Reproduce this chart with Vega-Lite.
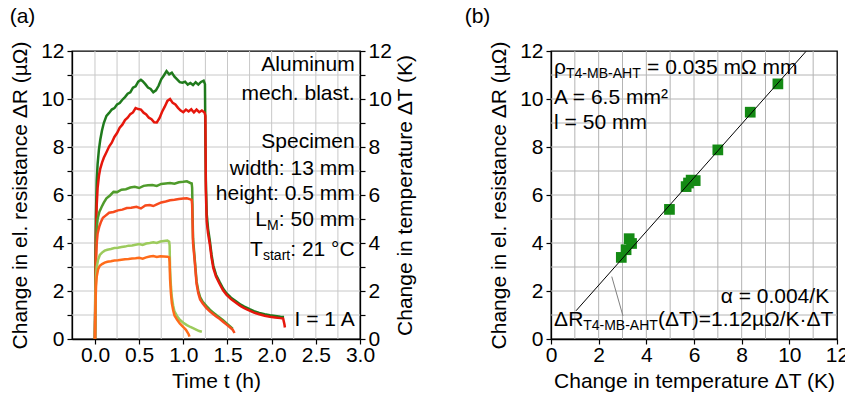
{
  "$schema": "https://vega.github.io/schema/vega-lite/v6.json",
  "background": "white",
  "padding": {"left": 8, "top": 5, "right": 5, "bottom": 5},
  "spacing": 46,
  "config": {
    "font": "Liberation Sans",
    "view": {"stroke": "black", "strokeWidth": 1.3},
    "axis": {
      "labelFontSize": 21, "titleFontSize": 21, "titleFontWeight": "normal",
      "labelColor": "black", "titleColor": "black",
      "domainColor": "black", "domainWidth": 1.3,
      "tickColor": "black", "tickSize": 5, "tickWidth": 1.2,
      "labelPadding": 3, "titlePadding": 10, "grid": false,
      "labelFlush": false, "labelOverlap": false
    },
    "axisX": {"labelPadding": 0, "titlePadding": 5},
    "title": {"fontSize": 21, "fontWeight": "normal", "color": "black", "font": "Liberation Sans"},
    "text": {"font": "Liberation Sans", "color": "black"}
  },
  "datasets": {
    "gridT": [
      {"t": 0}, {"t": 0.25}, {"t": 0.5}, {"t": 0.75}, {"t": 1}, {"t": 1.25}, {"t": 1.5},
      {"t": 1.75}, {"t": 2}, {"t": 2.25}, {"t": 2.5}, {"t": 2.75}
    ],
    "gridV": [
      {"v": 1}, {"v": 2}, {"v": 3}, {"v": 4}, {"v": 5}, {"v": 6}, {"v": 7}, {"v": 8}, {"v": 9}, {"v": 10}, {"v": 11}
    ],
    "gridDT": [
      {"dT": 1}, {"dT": 2}, {"dT": 3}, {"dT": 4}, {"dT": 5}, {"dT": 6}, {"dT": 7}, {"dT": 8}, {"dT": 9}, {"dT": 10}, {"dT": 11}
    ],
    "gridDR": [
      {"dR": 1}, {"dR": 2}, {"dR": 3}, {"dR": 4}, {"dR": 5}, {"dR": 6}, {"dR": 7}, {"dR": 8}, {"dR": 9}, {"dR": 10}, {"dR": 11}
    ],
    "curves": [
      {"s": "DG", "t": 0, "v": 0}, {"s": "DG", "t": 0.004, "v": 2.5}, {"s": "DG", "t": 0.01, "v": 5.0}, {"s": "DG", "t": 0.02, "v": 6.6}, {"s": "DG", "t": 0.03, "v": 7.3}, {"s": "DG", "t": 0.045, "v": 7.9}, {"s": "DG", "t": 0.06, "v": 8.3}, {"s": "DG", "t": 0.08, "v": 8.7}, {"s": "DG", "t": 0.1, "v": 9.0}, {"s": "DG", "t": 0.13, "v": 9.3}, {"s": "DG", "t": 0.16, "v": 9.42}, {"s": "DG", "t": 0.19, "v": 9.56}, {"s": "DG", "t": 0.22, "v": 9.62}, {"s": "DG", "t": 0.25, "v": 9.77}, {"s": "DG", "t": 0.28, "v": 9.83}, {"s": "DG", "t": 0.31, "v": 9.97}, {"s": "DG", "t": 0.34, "v": 10.08}, {"s": "DG", "t": 0.37, "v": 10.22}, {"s": "DG", "t": 0.4, "v": 10.28}, {"s": "DG", "t": 0.43, "v": 10.47}, {"s": "DG", "t": 0.46, "v": 10.53}, {"s": "DG", "t": 0.49, "v": 10.72}, {"s": "DG", "t": 0.52, "v": 10.8}, {"s": "DG", "t": 0.54, "v": 10.74}, {"s": "DG", "t": 0.57, "v": 10.62}, {"s": "DG", "t": 0.6, "v": 10.48}, {"s": "DG", "t": 0.63, "v": 10.42}, {"s": "DG", "t": 0.66, "v": 10.28}, {"s": "DG", "t": 0.69, "v": 10.36}, {"s": "DG", "t": 0.72, "v": 10.55}, {"s": "DG", "t": 0.75, "v": 10.82}, {"s": "DG", "t": 0.78, "v": 10.98}, {"s": "DG", "t": 0.81, "v": 11.16}, {"s": "DG", "t": 0.84, "v": 11.03}, {"s": "DG", "t": 0.87, "v": 11.1}, {"s": "DG", "t": 0.9, "v": 10.93}, {"s": "DG", "t": 0.93, "v": 10.82}, {"s": "DG", "t": 0.96, "v": 10.7}, {"s": "DG", "t": 0.99, "v": 10.68}, {"s": "DG", "t": 1.02, "v": 10.72}, {"s": "DG", "t": 1.05, "v": 10.6}, {"s": "DG", "t": 1.08, "v": 10.67}, {"s": "DG", "t": 1.11, "v": 10.58}, {"s": "DG", "t": 1.14, "v": 10.7}, {"s": "DG", "t": 1.17, "v": 10.6}, {"s": "DG", "t": 1.2, "v": 10.71}, {"s": "DG", "t": 1.23, "v": 10.76}, {"s": "DG", "t": 1.245, "v": 10.62}, {"s": "DG", "t": 1.25, "v": 8.2}, {"s": "DG", "t": 1.255, "v": 6.6}, {"s": "DG", "t": 1.265, "v": 5.2}, {"s": "DG", "t": 1.28, "v": 4.6}, {"s": "DG", "t": 1.3, "v": 4.1}, {"s": "DG", "t": 1.32, "v": 3.5}, {"s": "DG", "t": 1.34, "v": 3.05}, {"s": "DG", "t": 1.37, "v": 2.68}, {"s": "DG", "t": 1.41, "v": 2.38}, {"s": "DG", "t": 1.45, "v": 2.1}, {"s": "DG", "t": 1.49, "v": 1.9}, {"s": "DG", "t": 1.54, "v": 1.72}, {"s": "DG", "t": 1.6, "v": 1.56}, {"s": "DG", "t": 1.65, "v": 1.43}, {"s": "DG", "t": 1.69, "v": 1.35}, {"s": "DG", "t": 1.75, "v": 1.24}, {"s": "DG", "t": 1.8, "v": 1.16}, {"s": "DG", "t": 1.86, "v": 1.09}, {"s": "DG", "t": 1.92, "v": 1.03}, {"s": "DG", "t": 1.98, "v": 0.99}, {"s": "DG", "t": 2.04, "v": 0.96}, {"s": "DG", "t": 2.1, "v": 0.93}, {"s": "DG", "t": 2.14, "v": 0.92},

      {"s": "DR", "t": 0, "v": 0}, {"s": "DR", "t": 0.004, "v": 2.0}, {"s": "DR", "t": 0.01, "v": 4.2}, {"s": "DR", "t": 0.02, "v": 5.6}, {"s": "DR", "t": 0.03, "v": 6.3}, {"s": "DR", "t": 0.045, "v": 6.8}, {"s": "DR", "t": 0.06, "v": 7.1}, {"s": "DR", "t": 0.08, "v": 7.35}, {"s": "DR", "t": 0.1, "v": 7.55}, {"s": "DR", "t": 0.13, "v": 7.78}, {"s": "DR", "t": 0.16, "v": 8.02}, {"s": "DR", "t": 0.19, "v": 8.18}, {"s": "DR", "t": 0.22, "v": 8.42}, {"s": "DR", "t": 0.25, "v": 8.58}, {"s": "DR", "t": 0.28, "v": 8.8}, {"s": "DR", "t": 0.31, "v": 8.93}, {"s": "DR", "t": 0.34, "v": 9.12}, {"s": "DR", "t": 0.37, "v": 9.22}, {"s": "DR", "t": 0.4, "v": 9.37}, {"s": "DR", "t": 0.43, "v": 9.44}, {"s": "DR", "t": 0.46, "v": 9.62}, {"s": "DR", "t": 0.49, "v": 9.58}, {"s": "DR", "t": 0.52, "v": 9.56}, {"s": "DR", "t": 0.55, "v": 9.43}, {"s": "DR", "t": 0.58, "v": 9.36}, {"s": "DR", "t": 0.61, "v": 9.22}, {"s": "DR", "t": 0.64, "v": 9.16}, {"s": "DR", "t": 0.67, "v": 9.03}, {"s": "DR", "t": 0.7, "v": 9.02}, {"s": "DR", "t": 0.73, "v": 9.2}, {"s": "DR", "t": 0.76, "v": 9.47}, {"s": "DR", "t": 0.79, "v": 9.68}, {"s": "DR", "t": 0.82, "v": 9.92}, {"s": "DR", "t": 0.85, "v": 10.0}, {"s": "DR", "t": 0.88, "v": 9.84}, {"s": "DR", "t": 0.91, "v": 9.77}, {"s": "DR", "t": 0.94, "v": 9.63}, {"s": "DR", "t": 0.97, "v": 9.52}, {"s": "DR", "t": 1.0, "v": 9.45}, {"s": "DR", "t": 1.03, "v": 9.56}, {"s": "DR", "t": 1.06, "v": 9.48}, {"s": "DR", "t": 1.09, "v": 9.57}, {"s": "DR", "t": 1.12, "v": 9.44}, {"s": "DR", "t": 1.15, "v": 9.56}, {"s": "DR", "t": 1.18, "v": 9.45}, {"s": "DR", "t": 1.21, "v": 9.52}, {"s": "DR", "t": 1.24, "v": 9.44}, {"s": "DR", "t": 1.25, "v": 9.3}, {"s": "DR", "t": 1.255, "v": 6.2}, {"s": "DR", "t": 1.265, "v": 4.9}, {"s": "DR", "t": 1.28, "v": 4.4}, {"s": "DR", "t": 1.3, "v": 3.95}, {"s": "DR", "t": 1.32, "v": 3.38}, {"s": "DR", "t": 1.34, "v": 2.95}, {"s": "DR", "t": 1.37, "v": 2.6}, {"s": "DR", "t": 1.41, "v": 2.3}, {"s": "DR", "t": 1.45, "v": 2.03}, {"s": "DR", "t": 1.49, "v": 1.84}, {"s": "DR", "t": 1.54, "v": 1.66}, {"s": "DR", "t": 1.6, "v": 1.5}, {"s": "DR", "t": 1.65, "v": 1.37}, {"s": "DR", "t": 1.69, "v": 1.29}, {"s": "DR", "t": 1.75, "v": 1.18}, {"s": "DR", "t": 1.8, "v": 1.1}, {"s": "DR", "t": 1.86, "v": 1.03}, {"s": "DR", "t": 1.92, "v": 0.97}, {"s": "DR", "t": 1.98, "v": 0.93}, {"s": "DR", "t": 2.04, "v": 0.9}, {"s": "DR", "t": 2.1, "v": 0.87}, {"s": "DR", "t": 2.13, "v": 0.85}, {"s": "DR", "t": 2.145, "v": 0.6}, {"s": "DR", "t": 2.15, "v": 0.48},

      {"s": "MG", "t": 0, "v": 0}, {"s": "MG", "t": 0.005, "v": 2.0}, {"s": "MG", "t": 0.012, "v": 3.8}, {"s": "MG", "t": 0.02, "v": 4.6}, {"s": "MG", "t": 0.03, "v": 5.0}, {"s": "MG", "t": 0.05, "v": 5.3}, {"s": "MG", "t": 0.075, "v": 5.5}, {"s": "MG", "t": 0.1, "v": 5.68}, {"s": "MG", "t": 0.13, "v": 5.86}, {"s": "MG", "t": 0.17, "v": 5.98}, {"s": "MG", "t": 0.21, "v": 6.13}, {"s": "MG", "t": 0.25, "v": 6.12}, {"s": "MG", "t": 0.3, "v": 6.22}, {"s": "MG", "t": 0.35, "v": 6.24}, {"s": "MG", "t": 0.4, "v": 6.31}, {"s": "MG", "t": 0.45, "v": 6.34}, {"s": "MG", "t": 0.5, "v": 6.29}, {"s": "MG", "t": 0.55, "v": 6.38}, {"s": "MG", "t": 0.6, "v": 6.41}, {"s": "MG", "t": 0.65, "v": 6.42}, {"s": "MG", "t": 0.7, "v": 6.38}, {"s": "MG", "t": 0.75, "v": 6.46}, {"s": "MG", "t": 0.8, "v": 6.48}, {"s": "MG", "t": 0.85, "v": 6.5}, {"s": "MG", "t": 0.9, "v": 6.47}, {"s": "MG", "t": 0.95, "v": 6.53}, {"s": "MG", "t": 1.0, "v": 6.55}, {"s": "MG", "t": 1.04, "v": 6.57}, {"s": "MG", "t": 1.08, "v": 6.5}, {"s": "MG", "t": 1.095, "v": 6.48}, {"s": "MG", "t": 1.1, "v": 6.3}, {"s": "MG", "t": 1.105, "v": 5.2}, {"s": "MG", "t": 1.11, "v": 4.2}, {"s": "MG", "t": 1.13, "v": 3.3}, {"s": "MG", "t": 1.15, "v": 2.4}, {"s": "MG", "t": 1.17, "v": 2.0}, {"s": "MG", "t": 1.19, "v": 1.75}, {"s": "MG", "t": 1.22, "v": 1.55}, {"s": "MG", "t": 1.26, "v": 1.38}, {"s": "MG", "t": 1.3, "v": 1.22}, {"s": "MG", "t": 1.34, "v": 1.1}, {"s": "MG", "t": 1.38, "v": 0.98}, {"s": "MG", "t": 1.41, "v": 0.9}, {"s": "MG", "t": 1.45, "v": 0.78}, {"s": "MG", "t": 1.49, "v": 0.65}, {"s": "MG", "t": 1.53, "v": 0.52}, {"s": "MG", "t": 1.56, "v": 0.42},

      {"s": "MR", "t": 0, "v": 0}, {"s": "MR", "t": 0.005, "v": 1.8}, {"s": "MR", "t": 0.012, "v": 3.3}, {"s": "MR", "t": 0.02, "v": 4.0}, {"s": "MR", "t": 0.03, "v": 4.4}, {"s": "MR", "t": 0.05, "v": 4.7}, {"s": "MR", "t": 0.07, "v": 4.9}, {"s": "MR", "t": 0.09, "v": 5.05}, {"s": "MR", "t": 0.12, "v": 5.14}, {"s": "MR", "t": 0.16, "v": 5.26}, {"s": "MR", "t": 0.21, "v": 5.29}, {"s": "MR", "t": 0.26, "v": 5.36}, {"s": "MR", "t": 0.31, "v": 5.39}, {"s": "MR", "t": 0.36, "v": 5.46}, {"s": "MR", "t": 0.41, "v": 5.47}, {"s": "MR", "t": 0.47, "v": 5.51}, {"s": "MR", "t": 0.52, "v": 5.44}, {"s": "MR", "t": 0.57, "v": 5.56}, {"s": "MR", "t": 0.62, "v": 5.58}, {"s": "MR", "t": 0.66, "v": 5.54}, {"s": "MR", "t": 0.7, "v": 5.61}, {"s": "MR", "t": 0.75, "v": 5.69}, {"s": "MR", "t": 0.8, "v": 5.73}, {"s": "MR", "t": 0.85, "v": 5.78}, {"s": "MR", "t": 0.9, "v": 5.8}, {"s": "MR", "t": 0.95, "v": 5.83}, {"s": "MR", "t": 1.0, "v": 5.85}, {"s": "MR", "t": 1.04, "v": 5.86}, {"s": "MR", "t": 1.08, "v": 5.82}, {"s": "MR", "t": 1.095, "v": 5.8}, {"s": "MR", "t": 1.1, "v": 5.6}, {"s": "MR", "t": 1.105, "v": 4.8}, {"s": "MR", "t": 1.11, "v": 4.0}, {"s": "MR", "t": 1.13, "v": 3.2}, {"s": "MR", "t": 1.15, "v": 2.3}, {"s": "MR", "t": 1.17, "v": 1.9}, {"s": "MR", "t": 1.19, "v": 1.65}, {"s": "MR", "t": 1.22, "v": 1.48}, {"s": "MR", "t": 1.26, "v": 1.3}, {"s": "MR", "t": 1.3, "v": 1.15}, {"s": "MR", "t": 1.34, "v": 1.03}, {"s": "MR", "t": 1.38, "v": 0.92}, {"s": "MR", "t": 1.41, "v": 0.84}, {"s": "MR", "t": 1.45, "v": 0.72}, {"s": "MR", "t": 1.49, "v": 0.6}, {"s": "MR", "t": 1.53, "v": 0.48}, {"s": "MR", "t": 1.56, "v": 0.38}, {"s": "MR", "t": 1.58, "v": 0.25},

      {"s": "LG", "t": 0, "v": 0}, {"s": "LG", "t": 0.005, "v": 1.5}, {"s": "LG", "t": 0.012, "v": 2.6}, {"s": "LG", "t": 0.02, "v": 3.0}, {"s": "LG", "t": 0.035, "v": 3.3}, {"s": "LG", "t": 0.055, "v": 3.5}, {"s": "LG", "t": 0.08, "v": 3.6}, {"s": "LG", "t": 0.11, "v": 3.68}, {"s": "LG", "t": 0.14, "v": 3.72}, {"s": "LG", "t": 0.18, "v": 3.75}, {"s": "LG", "t": 0.22, "v": 3.79}, {"s": "LG", "t": 0.26, "v": 3.8}, {"s": "LG", "t": 0.3, "v": 3.83}, {"s": "LG", "t": 0.34, "v": 3.85}, {"s": "LG", "t": 0.38, "v": 3.89}, {"s": "LG", "t": 0.42, "v": 3.9}, {"s": "LG", "t": 0.46, "v": 3.93}, {"s": "LG", "t": 0.5, "v": 3.96}, {"s": "LG", "t": 0.54, "v": 3.92}, {"s": "LG", "t": 0.58, "v": 3.98}, {"s": "LG", "t": 0.62, "v": 4.0}, {"s": "LG", "t": 0.66, "v": 4.03}, {"s": "LG", "t": 0.7, "v": 4.0}, {"s": "LG", "t": 0.74, "v": 4.06}, {"s": "LG", "t": 0.78, "v": 4.08}, {"s": "LG", "t": 0.82, "v": 4.1}, {"s": "LG", "t": 0.84, "v": 4.05}, {"s": "LG", "t": 0.845, "v": 3.9}, {"s": "LG", "t": 0.85, "v": 2.9}, {"s": "LG", "t": 0.86, "v": 2.2}, {"s": "LG", "t": 0.87, "v": 1.75}, {"s": "LG", "t": 0.885, "v": 1.4}, {"s": "LG", "t": 0.9, "v": 1.15}, {"s": "LG", "t": 0.93, "v": 0.95}, {"s": "LG", "t": 0.96, "v": 0.8}, {"s": "LG", "t": 1.0, "v": 0.68}, {"s": "LG", "t": 1.04, "v": 0.58}, {"s": "LG", "t": 1.08, "v": 0.5}, {"s": "LG", "t": 1.11, "v": 0.45}, {"s": "LG", "t": 1.15, "v": 0.38}, {"s": "LG", "t": 1.18, "v": 0.33}, {"s": "LG", "t": 1.21, "v": 0.3},

      {"s": "OR", "t": 0, "v": 0}, {"s": "OR", "t": 0.005, "v": 1.3}, {"s": "OR", "t": 0.012, "v": 2.2}, {"s": "OR", "t": 0.02, "v": 2.6}, {"s": "OR", "t": 0.035, "v": 2.9}, {"s": "OR", "t": 0.055, "v": 3.05}, {"s": "OR", "t": 0.08, "v": 3.12}, {"s": "OR", "t": 0.11, "v": 3.18}, {"s": "OR", "t": 0.14, "v": 3.22}, {"s": "OR", "t": 0.18, "v": 3.24}, {"s": "OR", "t": 0.22, "v": 3.27}, {"s": "OR", "t": 0.26, "v": 3.28}, {"s": "OR", "t": 0.3, "v": 3.3}, {"s": "OR", "t": 0.34, "v": 3.32}, {"s": "OR", "t": 0.38, "v": 3.33}, {"s": "OR", "t": 0.42, "v": 3.35}, {"s": "OR", "t": 0.46, "v": 3.36}, {"s": "OR", "t": 0.5, "v": 3.38}, {"s": "OR", "t": 0.54, "v": 3.35}, {"s": "OR", "t": 0.58, "v": 3.4}, {"s": "OR", "t": 0.62, "v": 3.44}, {"s": "OR", "t": 0.66, "v": 3.46}, {"s": "OR", "t": 0.7, "v": 3.42}, {"s": "OR", "t": 0.74, "v": 3.45}, {"s": "OR", "t": 0.78, "v": 3.44}, {"s": "OR", "t": 0.82, "v": 3.43}, {"s": "OR", "t": 0.84, "v": 3.4}, {"s": "OR", "t": 0.845, "v": 3.2}, {"s": "OR", "t": 0.85, "v": 2.5}, {"s": "OR", "t": 0.86, "v": 1.9}, {"s": "OR", "t": 0.87, "v": 1.5}, {"s": "OR", "t": 0.885, "v": 1.2}, {"s": "OR", "t": 0.9, "v": 0.98}, {"s": "OR", "t": 0.93, "v": 0.8}, {"s": "OR", "t": 0.96, "v": 0.65}, {"s": "OR", "t": 1.0, "v": 0.5}, {"s": "OR", "t": 1.03, "v": 0.38}, {"s": "OR", "t": 1.06, "v": 0.2}, {"s": "OR", "t": 1.07, "v": 0.1}
    ],
    "fit": [
      {"dT": 2.95, "dR": 3.4}, {"dT": 3.15, "dR": 3.72}, {"dT": 3.28, "dR": 4.18}, {"dT": 3.38, "dR": 3.98},
      {"dT": 4.97, "dR": 5.4}, {"dT": 5.67, "dR": 6.35}, {"dT": 5.77, "dR": 6.5}, {"dT": 5.88, "dR": 6.62},
      {"dT": 6.05, "dR": 6.6}, {"dT": 7.0, "dR": 7.88}, {"dT": 8.36, "dR": 9.45}, {"dT": 9.52, "dR": 10.63}
    ]
  },
  "hconcat": [
    {
      "width": 288,
      "height": 288,
      "title": {"text": "(a)", "anchor": "start", "frame": "bounds", "offset": 13},
      "layer": [
        {
          "data": {"name": "gridT"},
          "mark": {"type": "rule", "color": "#c8c8c8", "strokeWidth": 1},
          "encoding": {
            "x": {
              "field": "t", "type": "quantitative",
              "scale": {"domain": [-0.26, 3.0], "nice": false, "zero": false},
              "axis": {
                "title": "Time t (h)", "format": ".1f",
                "values": [0, 0.25, 0.5, 0.75, 1, 1.25, 1.5, 1.75, 2, 2.25, 2.5, 2.75, 3],
                "labelExpr": "(datum.value * 4) % 2 == 0 ? datum.label : ''"
              }
            }
          }
        },
        {
          "data": {"name": "gridV"},
          "mark": {"type": "rule", "color": "#c8c8c8", "strokeWidth": 1},
          "encoding": {
            "y": {
              "field": "v", "type": "quantitative",
              "scale": {"domain": [0, 12], "nice": false},
              "axis": {
                "title": "Change in el. resistance ΔR (µΩ)", "orient": "left",
                "values": [0, 1, 2, 3, 4, 5, 6, 7, 8, 9, 10, 11, 12],
                "labelExpr": "datum.value % 2 == 0 ? datum.label : ''"
              }
            }
          }
        },
        {
          "data": {"name": "curves"},
          "mark": {"type": "line", "strokeWidth": 2.5, "clip": true},
          "encoding": {
            "x": {"field": "t", "type": "quantitative"},
            "y": {"field": "v", "type": "quantitative", "axis": null},
            "color": {
              "field": "s", "type": "nominal", "legend": null,
              "scale": {
                "domain": ["DG", "DR", "MG", "MR", "LG", "OR"],
                "range": ["#1f7a1c", "#e6170c", "#4f9b2b", "#f74b1d", "#9ccb5c", "#ff6c1a"]
              }
            }
          }
        },
        {
          "data": {"values": [
            {"t": 2.94, "v": 11.4, "label": "Aluminum"},
            {"t": 2.94, "v": 10.2, "label": "mech. blast."},
            {"t": 2.94, "v": 8.2, "label": "Specimen"},
            {"t": 2.94, "v": 7.1, "label": "width: 13 mm"},
            {"t": 2.94, "v": 6.05, "label": "height: 0.5 mm"},
            {"t": 2.94, "v": 4.95, "label": ": 50 mm"},
            {"t": 1.947, "v": 4.95, "label": "L"},
            {"t": 2.94, "v": 3.7, "label": ": 21 °C"},
            {"t": 1.901, "v": 3.7, "label": "T"},
            {"t": 2.94, "v": 0.8, "label": "I = 1 A"}
          ]},
          "mark": {"type": "text", "align": "right", "baseline": "middle", "fontSize": 21},
          "encoding": {
            "x": {"field": "t", "type": "quantitative"},
            "y": {"field": "v", "type": "quantitative", "axis": null},
            "text": {"field": "label"}
          }
        },
        {
          "data": {"values": [
            {"t": 2.079, "v": 4.7, "label": "M"},
            {"t": 2.21, "v": 3.45, "label": "start"}
          ]},
          "mark": {"type": "text", "align": "right", "baseline": "middle", "fontSize": 14},
          "encoding": {
            "x": {"field": "t", "type": "quantitative"},
            "y": {"field": "v", "type": "quantitative", "axis": null},
            "text": {"field": "label"}
          }
        },
        {
          "data": {"values": [{"t": 0, "v": 0}, {"t": 0, "v": 12}]},
          "mark": {"type": "point", "opacity": 0},
          "encoding": {
            "x": {"field": "t", "type": "quantitative"},
            "y": {
              "field": "v", "type": "quantitative",
              "axis": {
                "title": "Change in temperature ΔT (K)", "orient": "right",
                "titleAngle": 270, "titleBaseline": "top", "titlePadding": 3,
                "values": [0, 1, 2, 3, 4, 5, 6, 7, 8, 9, 10, 11, 12],
                "labelExpr": "datum.value % 2 == 0 ? datum.label : ''"
              }
            }
          }
        }
      ],
      "resolve": {"axis": {"y": "independent"}}
    },
    {
      "width": 286,
      "height": 288,
      "title": {"text": "(b)", "anchor": "start", "frame": "bounds", "offset": 13, "dx": -24},
      "layer": [
        {
          "data": {"name": "gridDT"},
          "mark": {"type": "rule", "color": "#b4b4b4", "strokeWidth": 1},
          "encoding": {
            "x": {
              "field": "dT", "type": "quantitative",
              "scale": {"domain": [0, 12], "nice": false},
              "axis": {
                "title": "Change in temperature ΔT (K)",
                "values": [0, 1, 2, 3, 4, 5, 6, 7, 8, 9, 10, 11, 12],
                "labelExpr": "datum.value % 2 == 0 ? datum.label : ''"
              }
            }
          }
        },
        {
          "data": {"name": "gridDR"},
          "mark": {"type": "rule", "color": "#b4b4b4", "strokeWidth": 1},
          "encoding": {
            "y": {
              "field": "dR", "type": "quantitative",
              "scale": {"domain": [0, 12], "nice": false},
              "axis": {
                "title": "Change in el. resistance ΔR (µΩ)",
                "values": [0, 1, 2, 3, 4, 5, 6, 7, 8, 9, 10, 11, 12],
                "labelExpr": "datum.value % 2 == 0 ? datum.label : ''"
              }
            }
          }
        },
        {
          "data": {"name": "fit"},
          "mark": {"type": "square", "size": 115, "color": "#148a14", "opacity": 1},
          "encoding": {
            "x": {"field": "dT", "type": "quantitative"},
            "y": {"field": "dR", "type": "quantitative"}
          }
        },
        {
          "data": {"values": [{"dT": 1.05, "dR": 1.176}, {"dT": 10.7, "dR": 11.984}]},
          "mark": {"type": "line", "color": "black", "strokeWidth": 1},
          "encoding": {
            "x": {"field": "dT", "type": "quantitative"},
            "y": {"field": "dR", "type": "quantitative"}
          }
        },
        {
          "data": {"values": [{"dT": 3.02, "dR": 0.96}, {"dT": 2.55, "dR": 2.6}]},
          "mark": {"type": "line", "color": "#808080", "strokeWidth": 1},
          "encoding": {
            "x": {"field": "dT", "type": "quantitative"},
            "y": {"field": "dR", "type": "quantitative"}
          }
        },
        {
          "data": {"values": [
            {"dT": 0.13, "dR": 11.3, "label": "ρ"},
            {"dT": 4.03, "dR": 11.3, "label": "= 0.035 mΩ mm"},
            {"dT": 0.13, "dR": 10.04, "label": "A = 6.5 mm²"},
            {"dT": 0.13, "dR": 9.0, "label": "l = 50 mm"},
            {"dT": 0.13, "dR": 0.79, "label": "ΔR"},
            {"dT": 4.486, "dR": 0.79, "label": "(ΔT)=1.12µΩ/K·ΔT"}
          ]},
          "mark": {"type": "text", "align": "left", "baseline": "middle", "fontSize": 21},
          "encoding": {
            "x": {"field": "dT", "type": "quantitative"},
            "y": {"field": "dR", "type": "quantitative"},
            "text": {"field": "label"}
          }
        },
        {
          "data": {"values": [
            {"dT": 0.63, "dR": 11.05, "label": "T4-MB-AHT"},
            {"dT": 1.351, "dR": 0.54, "label": "T4-MB-AHT"}
          ]},
          "mark": {"type": "text", "align": "left", "baseline": "middle", "fontSize": 14},
          "encoding": {
            "x": {"field": "dT", "type": "quantitative"},
            "y": {"field": "dR", "type": "quantitative"},
            "text": {"field": "label"}
          }
        },
        {
          "data": {"values": [{"dT": 11.67, "dR": 1.75, "label": "α = 0.004/K"}]},
          "mark": {"type": "text", "align": "right", "baseline": "middle", "fontSize": 21},
          "encoding": {
            "x": {"field": "dT", "type": "quantitative"},
            "y": {"field": "dR", "type": "quantitative"},
            "text": {"field": "label"}
          }
        }
      ]
    }
  ]
}
